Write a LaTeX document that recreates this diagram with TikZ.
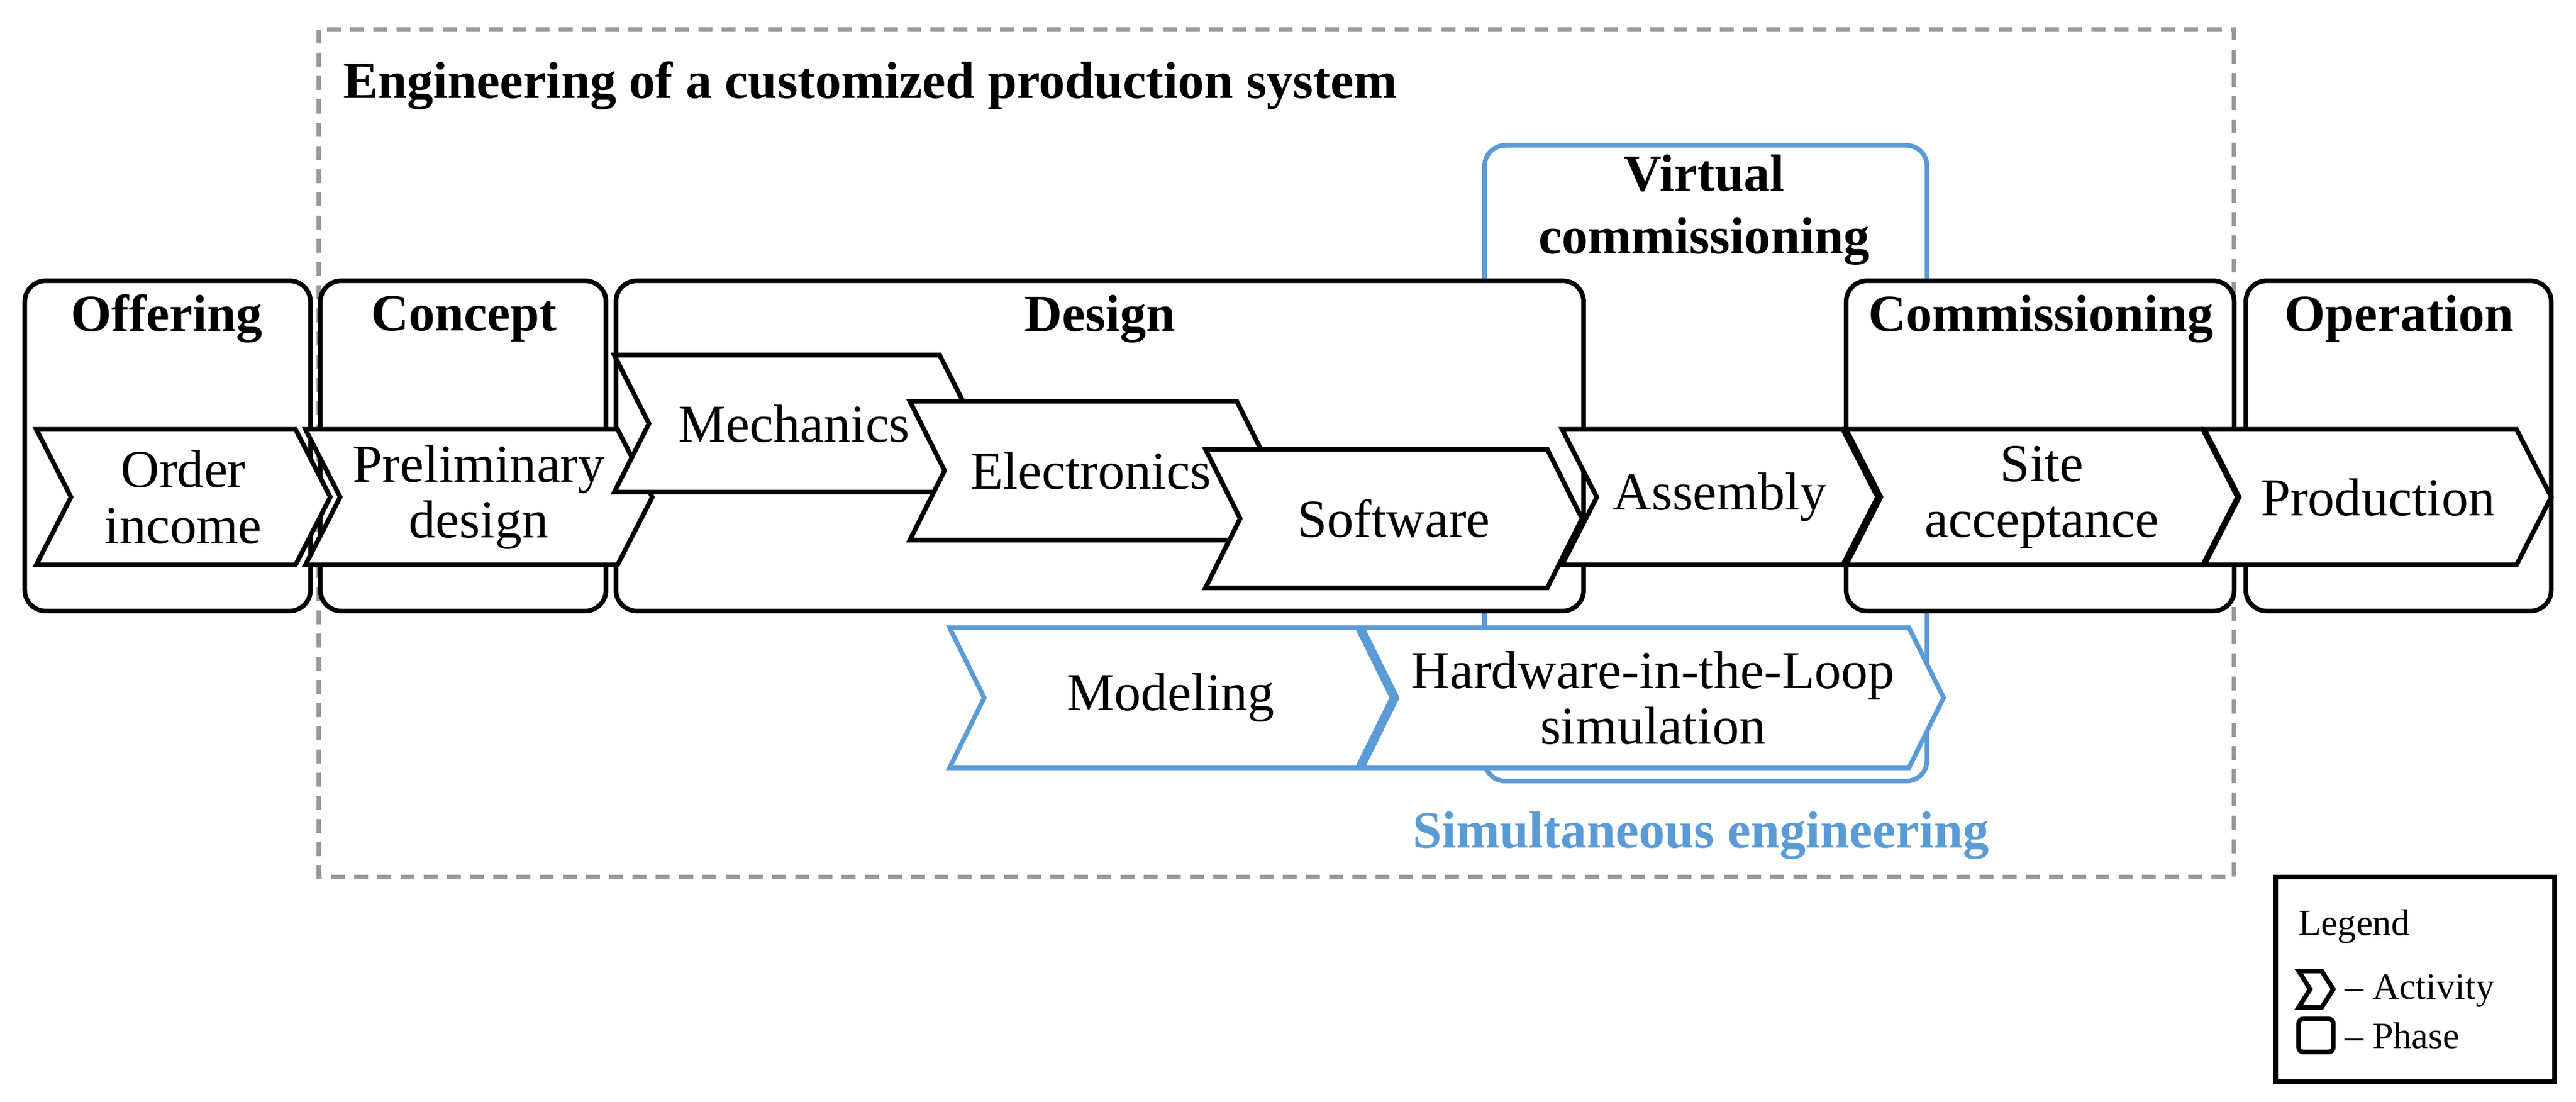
\documentclass[tikz,border=0pt]{standalone}
\usepackage{fontspec}
\setmainfont{Liberation Serif}
\definecolor{simblue}{RGB}{91,155,213}
\begin{document}
\begin{tikzpicture}[x=0.025cm,y=-0.025cm,
  phase/.style={draw=black,line width=2pt,rounded corners=9pt,fill=white},
  vcphase/.style={draw=simblue,line width=2pt,rounded corners=9pt},
  title/.style={font=\fontsize{22.5}{27}\selectfont\bfseries,align=center},
  act/.style={font=\fontsize{23}{26}\selectfont,align=center},
  leg/.style={font=\fontsize{16}{18}\selectfont,anchor=west}]

\newcommand{\mychevron}[7]{% nom, couleur, x1, y1, x2, y2, texte
\draw[#2,line width=2pt,fill=white] (#3,#4) -- (#5-21,#4) -- (#5,{(#4+#6)/2}) -- (#5-21,#6) -- (#3,#6) -- (#3+21,{(#4+#6)/2}) -- cycle;
\node[act] (#1) at ({(#3+#5)/2},{(#4+#6)/2}) {#7};
}

\useasboundingbox (0,0) rectangle (1560,667);

%engineering frame
\draw[gray!80,dash pattern=on 6pt off 4pt,line width=2pt] (193,18) rectangle (1353,531);
\node[title,anchor=west] (eng) at (203,52) {Engineering of a customized production system};
%virtual commissioning
\draw[vcphase] (899,88) rectangle (1167,473);
\node[title] (vc) at (1032,127) {Virtual\\commissioning};
%phases
\draw[phase] (15,170) rectangle (188,370);
\node[title] (offering) at (101,193) {Offering};
\draw[phase] (194,170) rectangle (367,370);
\node[title] (concept) at (281,193) {Concept};
\draw[phase] (373,170) rectangle (959,370);
\node[title] (design) at (666,193) {Design};
\draw[phase] (1118,170) rectangle (1353,370);
\node[title] (commissioning) at (1236,193) {Commissioning};
\draw[phase] (1360,170) rectangle (1545,370);
\node[title] (operation) at (1453,193) {Operation};
%activities
\mychevron{order}{black}{22}{260}{200}{342}{Order\\[-2pt]income}
\mychevron{prelim}{black}{185}{260}{395}{342}{Preliminary\\[-2pt]design}
\mychevron{mech}{black}{372}{215}{590}{298}{Mechanics}
\mychevron{elec}{black}{551}{243}{770}{327}{Electronics}
\mychevron{soft}{black}{730}{272}{958}{356}{Software}
\mychevron{assembly}{black}{946}{260}{1137}{342}{Assembly}
\mychevron{site}{black}{1118}{260}{1355}{342}{Site\\[-2pt]acceptance}
\mychevron{prod}{black}{1335}{260}{1545}{342}{Production}
%simultaneous engineering
\mychevron{model}{simblue}{575}{380}{843}{465}{Modeling}
\mychevron{hil}{simblue}{825}{380}{1177}{465}{Hardware-in-the-Loop\\[-2pt]simulation}
\node[title,text=simblue] (simeng) at (1030,506) {Simultaneous engineering};
%legend
\draw[line width=2pt] (1378,531) rectangle (1547,655);
\node[leg] (legend) at (1387,561) {Legend};
\draw[line width=2pt] (1392,588) -- (1406,588) -- (1413,599) -- (1406,610) -- (1392,610) -- (1399,599) -- cycle;
\node[leg] (legact) at (1415,600) {-- Activity};
\draw[line width=2pt,rounded corners=2pt] (1392,617) rectangle (1413,637);
\node[leg] (legphase) at (1415,627) {-- Phase};

\end{tikzpicture}
\end{document}
